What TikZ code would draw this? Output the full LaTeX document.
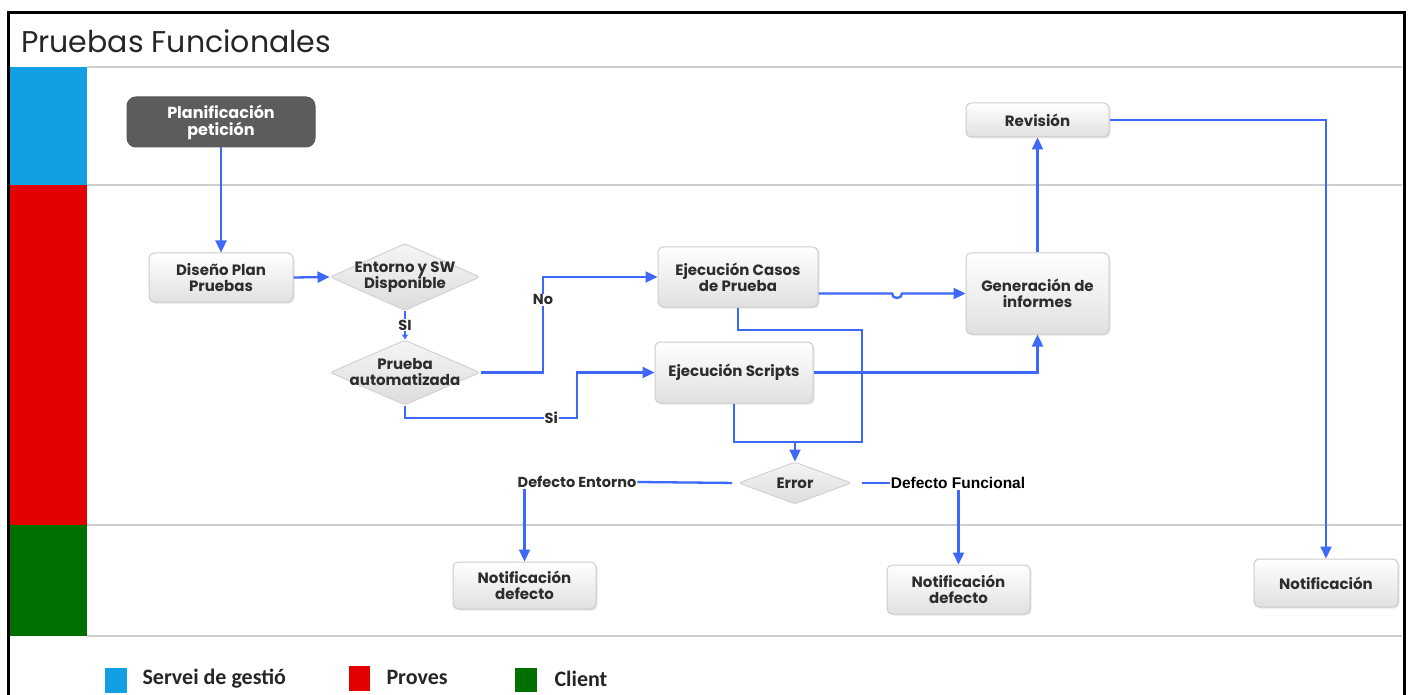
\documentclass[tikz,border=0pt]{standalone}
\usepackage{fontspec}
\setmainfont{Poppins}
\newfontfamily\legfont{Carlito}
\newfontfamily\arialfont{Liberation Sans}
\usetikzlibrary{arrows.meta,shapes.geometric,shadows}
\definecolor{flow}{RGB}{62,104,250}
\definecolor{lanegray}{RGB}{205,205,205}
\definecolor{laneblue}{RGB}{18,160,226}
\definecolor{lanered}{RGB}{226,0,0}
\definecolor{lanegreen}{RGB}{0,112,0}
\definecolor{darkbox}{RGB}{92,92,92}
\definecolor{txt}{RGB}{45,45,45}
\tikzset{
  conn/.style={draw=flow, line width=2.3pt},
  arr/.style={conn, -{Triangle[length=12pt,width=11pt]}},
  smallarr/.style={conn, -{Triangle[length=5pt,width=6pt]}},
  procbox/.style={rectangle, rounded corners=5pt, draw=gray!40, line width=1pt,
    top color=white, bottom color=gray!24, align=center, text=txt,
    font=\bfseries\fontsize{15}{16}\selectfont, inner sep=2pt,
    drop shadow={opacity=0.18, shadow xshift=1.5pt, shadow yshift=-1.5pt}},
  % the diamond itself is empty; its text is set as a centred label
  decision/.style={diamond, inner sep=0pt, rounded corners=3pt,
    draw=gray!35, line width=1pt, top color=gray!8, bottom color=gray!27},
  dtext/.style={align=center, text=txt, inner sep=0pt,
    font=\bfseries\fontsize{15}{16}\selectfont},
  startbox/.style={rectangle, rounded corners=9pt, draw=gray!70!black, line width=1pt,
    fill=darkbox, text=white, align=center,
    font=\bfseries\fontsize{16}{17}\selectfont},
  flowlabel/.style={fill=white, inner sep=1pt, text=txt,
    font=\bfseries\fontsize{14.5}{16}\selectfont},
  lane/.style={draw=lanegray, line width=1.6pt},
  legtext/.style={anchor=west, font=\legfont\bfseries\fontsize{22}{24}\selectfont, text=black!85}
}
\begin{document}
\begin{tikzpicture}[x=1pt,y=-1pt]
\useasboundingbox (0,0) rectangle (1411,695);
\fill[white] (0,0) rectangle (1411,695);

% swimlanes
\fill[laneblue]  (10,67)  rectangle (87,185);
\fill[lanered]   (10,185) rectangle (87,525);
\fill[lanegreen] (10,525) rectangle (87,636);
\foreach \yy in {67,185,525,636} \draw[lane] (87,\yy) -- (1402,\yy);

% outer frame
\draw[line width=3pt, line join=miter] (8,695) -- (8,13) -- (1404,13) -- (1404,695);
\node[anchor=west, inner sep=0pt, text=black!85, font=\fontsize{30}{32}\selectfont]
  (title) at (21,41) {Pruebas Funcionales};

% process steps
\node[startbox, minimum width=188pt, minimum height=50pt] (plan) at (221,122) {Planificación\\petición};
\node[procbox, minimum width=144pt, minimum height=49pt] (dis) at (221,277.5) {Diseño Plan\\Pruebas};
\node[decision, minimum width=150pt, minimum height=67pt,
  label={[dtext]center:{Entorno y SW\\Disponible}}] (ent) at (405,277) {};
\node[decision, minimum width=150pt, minimum height=65pt,
  label={[dtext]center:{Prueba\\automatizada}}] (pru) at (405,372.5) {};
\node[procbox, minimum width=160pt, minimum height=60pt] (cas) at (738,277) {Ejecución Casos\\de Prueba};
\node[procbox, minimum width=158pt, minimum height=61pt] (scr) at (734,372.5) {Ejecución Scripts};
\node[procbox, minimum width=143pt, minimum height=81pt] (gen) at (1037.5,293.5) {Generación de\\informes};
\node[procbox, minimum width=143pt, minimum height=34pt] (rev) at (1037.5,120) {Revisión};
\node[decision, minimum width=113pt, minimum height=42pt,
  label={[dtext]center:Error}] (err) at (795,483) {};
\node[procbox, minimum width=143pt, minimum height=47pt] (nd1) at (524.5,585.5) {Notificación\\defecto};
\node[procbox, minimum width=143pt, minimum height=49pt] (nd2) at (958.5,589.5) {Notificación\\defecto};
\node[procbox, minimum width=144pt, minimum height=48pt] (notif) at (1326,583) {Notificación};

% branch labels beside the error decision
\node[inner sep=1pt, text=txt, font=\bfseries\fontsize{14.5}{16}\selectfont] (de) at (577,482) {Defecto Entorno};
\node[inner sep=1pt, text=black, font=\arialfont\bfseries\fontsize{15.5}{17}\selectfont] (df) at (958,483) {Defecto Funcional};

% connectors
\draw[arr] (plan.south) -- (plan.south |- dis.north);
\draw[arr] (dis.east) -- (ent.west);
\draw[smallarr] (ent.south) -- node[flowlabel]{SI} (pru.north);
\draw[arr] (pru.east) -- (543,372.5) -- node[flowlabel, pos=0.76]{No} (543,277) -- (cas.west);
\draw[arr] (pru.south) -- (405,418) -- node[flowlabel, pos=0.85]{Si} (577,418) -- (577,372.5) -- (scr.west);
\coordinate (hop) at (897,293.5);
\draw[arr] (cas.east |- gen.west) -- ([xshift=-5pt]hop)
  .. controls ([xshift=-5pt,yshift=-6pt]hop) and ([xshift=5pt,yshift=-6pt]hop) .. ([xshift=5pt]hop)
  -- (gen.west);
\coordinate (join) at (795,442);
\draw[conn] (cas.south) |- (862,330) |- (scr.south |- join) -- (scr.south);
\draw[arr] (join) -- (err.north);
\draw[arr] (scr.east) -| (gen.south);
\draw[arr] (gen.north) -- (rev.south);
\draw[arr] (rev.east) -| (notif.north);
\draw[conn, shorten <=6pt] (err.west) -- (de.east);
\draw[arr] (nd1.north |- de.south) -- (nd1.north);
\draw[conn, shorten <=10pt] (err.east) -- (df.west);
\draw[arr] (nd2.north |- df.south) -- (nd2.north);

% legend
\fill[laneblue]  (105,668) rectangle (127,693);
\node[legtext] (l1) at (139,679) {Servei de gestió};
\fill[lanered]   (349,666) rectangle (370,691);
\node[legtext] (l2) at (383,677) {Proves};
\fill[lanegreen] (515,668) rectangle (537,692);
\node[legtext] (l3) at (551,679) {Client};
\end{tikzpicture}
\end{document}
